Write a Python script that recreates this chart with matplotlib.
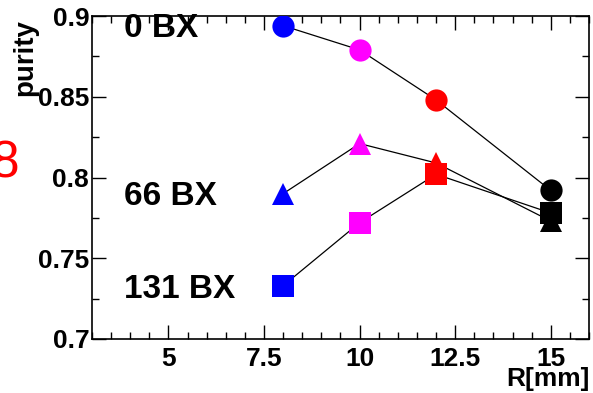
import matplotlib
matplotlib.use("Agg")
import matplotlib.pyplot as plt
from matplotlib.ticker import MultipleLocator

plt.rcParams['font.family'] = ['Liberation Sans', 'DejaVu Sans']

# Data
radius = [8, 10, 12, 15]
point_colors = ['blue', 'magenta', 'red', 'black']
purity_0bx = [0.894, 0.879, 0.848, 0.792]
purity_66bx = [0.790, 0.821, 0.809, 0.773]
purity_131bx = [0.733, 0.772, 0.802, 0.778]
series_labels = ['0 BX', '66 BX', '131 BX']
xlabel = 'R[mm]'
ylabel = 'purity'

W, H = 593, 393
fig = plt.figure(figsize=(W / 100, H / 100), dpi=100)
ax = fig.add_axes([92 / W, 1 - 339 / H, (589 - 92) / W, (339 - 16) / H])

series = [(purity_0bx, 'o'), (purity_66bx, '^'), (purity_131bx, 's')]
for vals, m in series:
    ax.plot(radius, vals, color='black', lw=0.9, zorder=2)
z = 3
for vals, m in series:
    for xv, yv, c in zip(radius, vals, point_colors):
        ax.plot([xv], [yv], marker=m, ms=16, color=c, mec=c, mew=0,
                linestyle='none', zorder=z)
    z += 1

ax.set_xlim(3, 16)
ax.set_ylim(0.7, 0.9)
ax.xaxis.set_major_locator(MultipleLocator(2.5))
ax.xaxis.set_minor_locator(MultipleLocator(0.5))
ax.yaxis.set_major_locator(MultipleLocator(0.05))
ax.yaxis.set_minor_locator(MultipleLocator(0.025))
ax.set_xticks([5, 7.5, 10, 12.5, 15])
ax.set_xticklabels(['5', '7.5', '10', '12.5', '15'])
ax.set_yticks([0.7, 0.75, 0.8, 0.85, 0.9])
ax.set_yticklabels(['0.7', '0.75', '0.8', '0.85', '0.9'])
ax.tick_params(which='both', direction='in', top=True, right=True, width=1.0)
ax.tick_params(which='major', length=10)
ax.tick_params(which='minor', length=5)
ax.tick_params(axis='x', which='major', pad=6, labelsize=19)
ax.tick_params(axis='y', which='major', pad=2, labelsize=19)
for lab in ax.get_xticklabels() + ax.get_yticklabels():
    lab.set_fontweight('bold')
for s in ax.spines.values():
    s.set_linewidth(1.2)

fig.text(25 / W, 1 - 19 / H, ylabel, rotation=90, ha='center', va='top',
         fontsize=20, fontweight='bold')
fig.text(590 / W, 1 - 386 / H, xlabel, ha='right', va='baseline',
         fontsize=19, fontweight='bold')

label_baselines = [37, 205, 298]
for lab, yb in zip(series_labels, label_baselines):
    fig.text(124 / W, 1 - yb / H, lab, ha='left', va='baseline',
             fontsize=24, fontweight='bold', zorder=10)

fig.text(19 / W, 1 - 177 / H, '8', ha='right', va='baseline', fontsize=37,
         color='red')

fig.savefig('out.png', dpi=100)
